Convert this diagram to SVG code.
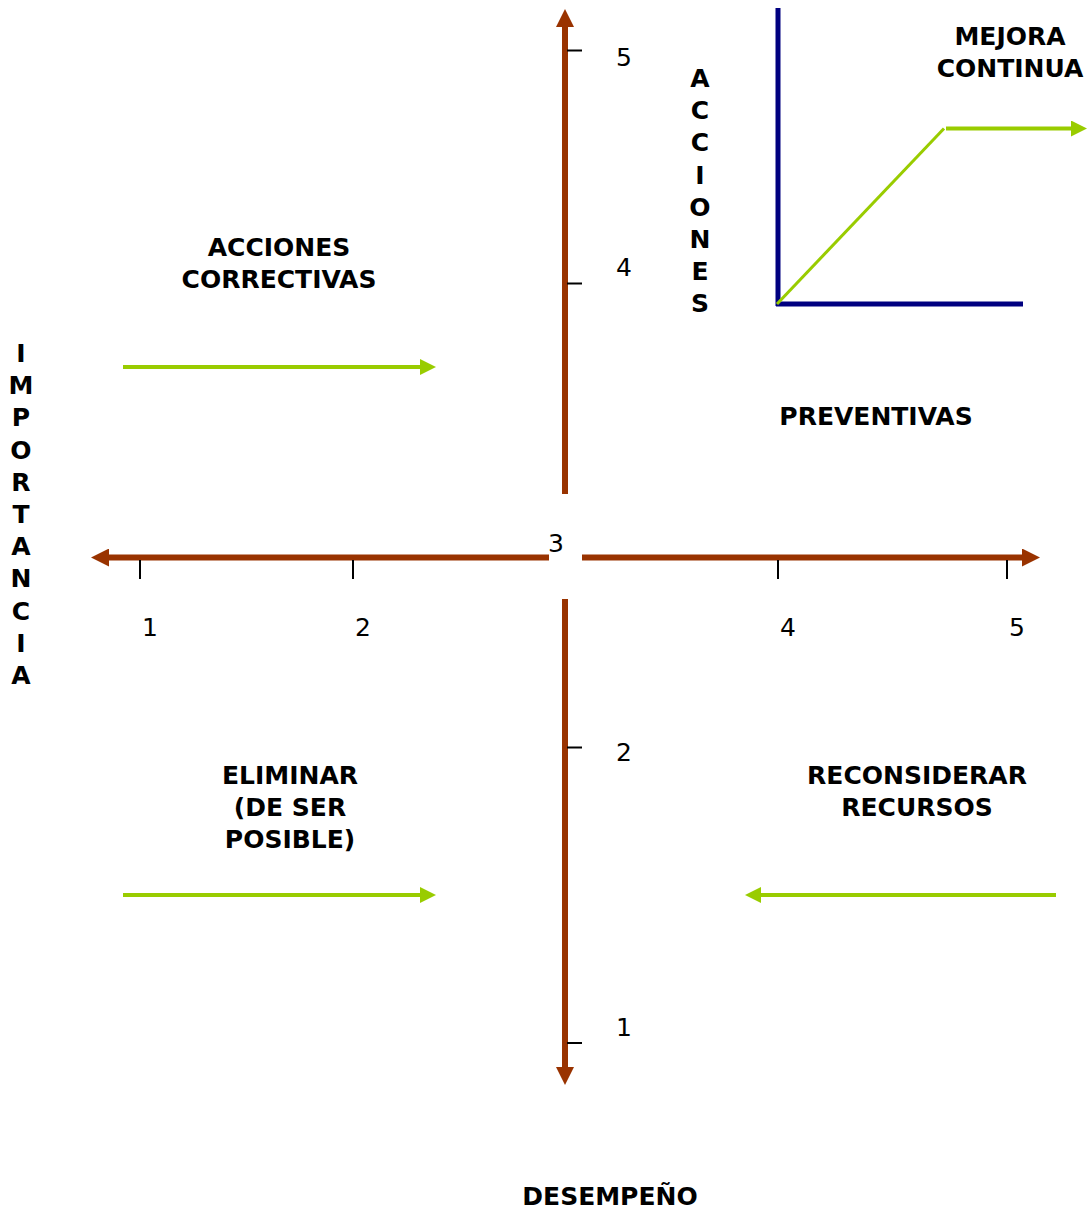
<svg xmlns="http://www.w3.org/2000/svg" width="1087" height="1209" viewBox="0 0 1087 1209">
<style>
.lbl{font-family:"DejaVu Sans","Liberation Sans",sans-serif;font-weight:bold;font-size:25px;fill:#000;text-anchor:middle}
.num{font-family:"DejaVu Sans","Liberation Sans",sans-serif;font-size:25px;fill:#000;text-anchor:middle}
.axis{stroke:#993300;stroke-width:6;fill:none}
.tick{stroke:#000;stroke-width:2}
.grn{stroke:#99cc00;stroke-width:4;fill:none}
.navy{stroke:#000080;stroke-width:5;fill:none}
</style>
<defs>
<marker id="ab" viewBox="0 0 18 18" refX="0" refY="9" markerWidth="18" markerHeight="18" markerUnits="userSpaceOnUse" orient="auto">
<path d="M0,0 L18,9 L0,18 z" fill="#993300"/>
</marker>
<marker id="ag" viewBox="0 0 16 16" refX="0" refY="8" markerWidth="16" markerHeight="16" markerUnits="userSpaceOnUse" orient="auto">
<path d="M0,0 L16,8 L0,16 z" fill="#99cc00"/>
</marker>
</defs>
<rect width="1087" height="1209" fill="#fff"/>
<g id="axes">
<line class="axis" x1="565" y1="494" x2="565" y2="27" marker-end="url(#ab)"/>
<line class="axis" x1="565" y1="599" x2="565" y2="1067" marker-end="url(#ab)"/>
<line class="axis" x1="549" y1="557.5" x2="109" y2="557.5" marker-end="url(#ab)"/>
<line class="axis" x1="582" y1="557.5" x2="1022" y2="557.5" marker-end="url(#ab)"/>
</g>
<g id="ticks">
<line class="tick" x1="567" y1="50.5" x2="582" y2="50.5"/>
<line class="tick" x1="567" y1="283.5" x2="582" y2="283.5"/>
<line class="tick" x1="567" y1="747.5" x2="582" y2="747.5"/>
<line class="tick" x1="567" y1="1043" x2="582" y2="1043"/>
<line class="tick" x1="140" y1="560" x2="140" y2="579"/>
<line class="tick" x1="353" y1="560" x2="353" y2="579"/>
<line class="tick" x1="778" y1="560" x2="778" y2="579"/>
<line class="tick" x1="1007" y1="560" x2="1007" y2="579"/>
</g>
<g id="numbers">
<text class="num" x="624" y="66">5</text>
<text class="num" x="624" y="276">4</text>
<text class="num" x="556" y="552">3</text>
<text class="num" x="624" y="761">2</text>
<text class="num" x="624" y="1036">1</text>
<text class="num" x="150" y="636">1</text>
<text class="num" x="363" y="636">2</text>
<text class="num" x="788" y="636">4</text>
<text class="num" x="1017" y="636">5</text>
</g>
<g id="mejora-chart">
<line class="navy" x1="778" y1="8" x2="778" y2="306"/>
<line class="navy" x1="776" y1="304" x2="1023" y2="304"/>
<line stroke="#99cc00" stroke-width="3" x1="777" y1="304" x2="944" y2="128.5"/>
<line class="grn" x1="946" y1="128.5" x2="1071" y2="128.5" marker-end="url(#ag)"/>
</g>
<g id="connectors">
<line class="grn" x1="123" y1="367" x2="420" y2="367" marker-end="url(#ag)"/>
<line class="grn" x1="123" y1="895" x2="420" y2="895" marker-end="url(#ag)"/>
<line class="grn" x1="1056" y1="895" x2="761" y2="895" marker-end="url(#ag)"/>
</g>
<g id="acciones-correctivas">
<text class="lbl" x="279" y="256">ACCIONES</text>
<text class="lbl" x="279" y="288">CORRECTIVAS</text>
</g>
<g id="mejora-continua">
<text class="lbl" x="1010" y="45">MEJORA</text>
<text class="lbl" x="1010" y="77">CONTINUA</text>
</g>
<g id="acciones-vertical">
<text class="lbl" x="700" y="87">A<tspan x="700" dy="32.2">C</tspan><tspan x="700" dy="32.2">C</tspan><tspan x="700" dy="32.2">I</tspan><tspan x="700" dy="32.2">O</tspan><tspan x="700" dy="32.2">N</tspan><tspan x="700" dy="32.2">E</tspan><tspan x="700" dy="32.2">S</tspan></text>
</g>
<g id="preventivas">
<text class="lbl" x="876" y="425">PREVENTIVAS</text>
</g>
<g id="importancia">
<text class="lbl" x="21" y="362">I<tspan x="21" dy="32.2">M</tspan><tspan x="21" dy="32.2">P</tspan><tspan x="21" dy="32.2">O</tspan><tspan x="21" dy="32.2">R</tspan><tspan x="21" dy="32.2">T</tspan><tspan x="21" dy="32.2">A</tspan><tspan x="21" dy="32.2">N</tspan><tspan x="21" dy="32.2">C</tspan><tspan x="21" dy="32.2">I</tspan><tspan x="21" dy="32.2">A</tspan></text>
</g>
<g id="eliminar">
<text class="lbl" x="290" y="784">ELIMINAR</text>
<text class="lbl" x="290" y="816">(DE SER</text>
<text class="lbl" x="290" y="848">POSIBLE)</text>
</g>
<g id="reconsiderar">
<text class="lbl" x="917" y="784">RECONSIDERAR</text>
<text class="lbl" x="917" y="816">RECURSOS</text>
</g>
<g id="desempeno">
<text class="lbl" x="610" y="1205">DESEMPEÑO</text>
</g>
</svg>
